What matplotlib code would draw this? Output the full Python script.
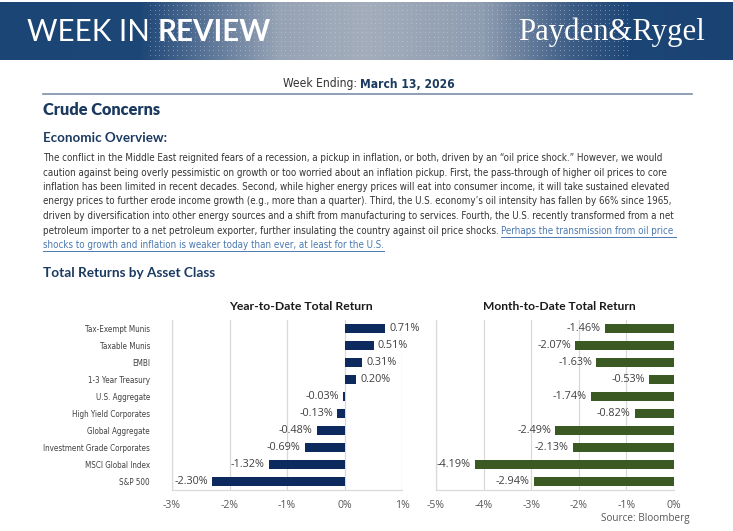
import matplotlib
matplotlib.use("Agg")
import matplotlib.pyplot as plt
from matplotlib import font_manager as fm
import numpy as np
from matplotlib.colors import LinearSegmentedColormap

# ---------------- data ----------------
categories = ["Tax-Exempt Munis", "Taxable Munis", "EMBI", "1-3 Year Treasury",
              "U.S. Aggregate", "High Yield Corporates", "Global Aggregate",
              "Investment Grade Corporates", "MSCI Global Index", "S&P 500"]
ytd_values = [0.71, 0.51, 0.31, 0.20, -0.03, -0.13, -0.48, -0.69, -1.32, -2.30]
mtd_values = [-1.46, -2.07, -1.63, -0.53, -1.74, -0.82, -2.49, -2.13, -4.19, -2.94]
ytd_ticks = [-3, -2, -1, 0, 1]
mtd_ticks = [-5, -4, -3, -2, -1, 0]

paragraph_lines = [
    "The conflict in the Middle East reignited fears of a recession, a pickup in inflation, or both, driven by an \u201coil price shock.\u201d However, we would",
    "caution against being overly pessimistic on growth or too worried about an inflation pickup. First, the pass-through of higher oil prices to core",
    "inflation has been limited in recent decades. Second, while higher energy prices will eat into consumer income, it will take sustained elevated",
    "energy prices to further erode income growth (e.g., more than a quarter). Third, the U.S. economy\u2019s oil intensity has fallen by 66% since 1965,",
    "driven by diversification into other energy sources and a shift from manufacturing to services. Fourth, the U.S. recently transformed from a net",
    "petroleum importer to a net petroleum exporter, further insulating the country against oil price shocks. ",
]
link_part1 = "Perhaps the transmission from oil price "
link_part2 = "shocks to growth and inflation is weaker today than ever, at least for the U.S."

NAVY_BAR = "#0c2a5e"
GREEN_BAR = "#3b5a23"
HEAD = "#1b3a60"
TXT = "#333333"
LABEL = "#404040"
GRID = "#d9d9d9"
LINK = "#4a78b0"

# ---- look for a condensed / narrow sans font, else fall back ----
def find_narrow(bold=False):
    best = None
    for f in fm.fontManager.ttflist:
        nm = f.name.lower()
        narrow = ("narrow" in nm or "condensed" in nm or
                  str(f.stretch) in ("condensed", "semi-condensed", "575", "625", "700", "750"))
        if not narrow or "serif" in nm and "sans" not in nm or "mono" in nm:
            continue
        w = f.weight if isinstance(f.weight, int) else (700 if "bold" in str(f.weight) else 400)
        if bold and w < 600:
            continue
        if not bold and w >= 600:
            continue
        if f.style != "normal":
            continue
        best = f.fname
        if "liberation" in nm or "dejavu" in nm:
            break
    return best

_nr = find_narrow(False)
_nb = find_narrow(True)
NARROW = fm.FontProperties(fname=_nr) if _nr else fm.FontProperties(family="DejaVu Sans")
NARROW_B = fm.FontProperties(fname=_nb) if _nb else fm.FontProperties(family="DejaVu Sans", weight="bold")
LATO_B = fm.FontProperties(family="Lato", weight="bold")

def fp(base, size):
    p = base.copy()
    p.set_size(size)
    return p

W, H = 733, 531
fig = plt.figure(figsize=(W / 100, H / 100), dpi=100)
r = fig.canvas.get_renderer()
bg = fig.add_axes([0, 0, 1, 1])
bg.set_xlim(0, W)
bg.set_ylim(H, 0)
bg.axis("off")
inv = bg.transData.inverted()

def width_px(t):
    return t.get_window_extent(r).width

def fit(t, target):
    w = width_px(t)
    if w > 0:
        t.set_fontsize(t.get_fontsize() * target / w)
    return t

# ---------------- header banner ----------------
cmap = LinearSegmentedColormap.from_list("hdr", [
    (0.0, "#1b4574"), (0.19, "#1d4777"), (0.28, "#5a7497"), (0.38, "#97a4b6"),
    (0.50, "#a3adbb"), (0.66, "#8f9db1"), (0.78, "#3e5d86"), (0.86, "#1c4676"), (1.0, "#1a4373")])
grad = np.linspace(0, 1, 400).reshape(1, -1)
bg.imshow(grad, cmap=cmap, extent=[0, W, 60, 2], aspect="auto", zorder=0)
xs, ys = np.meshgrid(np.arange(150, 630, 4.5), np.arange(5, 58, 4.5))
bg.scatter(xs.ravel(), ys.ravel(), s=0.5, c="#d0d7e0", alpha=0.35, linewidths=0, zorder=1)
bg.set_xlim(0, W)
bg.set_ylim(H, 0)

t1 = bg.text(27, 32, "WEEK IN ", color="white", fontsize=21, family="Lato",
             va="center", ha="left", zorder=3)
t1b = bg.text(0, 32, "REVIEW", color="white", fontsize=21, family="Lato",
              fontweight="bold", va="center", ha="left", zorder=3)
tot = width_px(t1) + width_px(t1b)
sc = 243 / tot
t1.set_fontsize(21 * sc)
t1b.set_fontsize(21 * sc)
t1b.set_x(27 + width_px(t1))
tp = bg.text(705, 32, "Payden&Rygel", color="white", fontsize=23, family="Liberation Serif",
             va="center", ha="right", zorder=3)
fit(tp, 187)

# ---------------- title block ----------------
t2 = bg.text(0, 84, "Week Ending: ", color=TXT, fontproperties=fp(NARROW, 9), va="center", ha="left")
t3 = bg.text(0, 84, "March 13, 2026", color=HEAD, fontproperties=fp(NARROW_B, 9), va="center", ha="left")
tw = width_px(t2) + width_px(t3)
s2 = 172 / tw
t2.set_fontsize(9 * s2)
t3.set_fontsize(9 * s2)
w2 = width_px(t2)
start = 369 - (w2 + width_px(t3)) / 2
t2.set_x(start)
t3.set_x(start + w2)
bg.plot([43, 692], [94, 94], color="#7d90a8", lw=1.2)

tc = bg.text(43, 110, "Crude Concerns", color=HEAD, fontsize=12, family="Lato",
             fontweight="heavy", va="center", ha="left")
fit(tc, 117)
te = bg.text(43, 138, "Economic Overview:", color=HEAD, fontproperties=fp(LATO_B, 10),
             va="center", ha="left")
fit(te, 124)

line_y = [158, 172.5, 187, 201.5, 216, 230.5, 245]
texts = []
for i, line in enumerate(paragraph_lines):
    t = bg.text(43, line_y[i], line, color=TXT, fontproperties=fp(NARROW, 8),
                va="center", ha="left")
    texts.append(t)
# fit paragraph font so the first five lines have the reference's total length
para_fs = 8 * 3135 / sum(width_px(t) for t in texts[:5])
for t in texts:
    t.set_fontsize(para_fs)
ext = texts[5].get_window_extent(r)
x_link = inv.transform((ext.x1, ext.y0))[0]
l1 = bg.text(x_link, line_y[5], link_part1, color=LINK, fontproperties=fp(NARROW, para_fs),
             va="center", ha="left")
l2 = bg.text(43, line_y[6], link_part2, color=LINK, fontproperties=fp(NARROW, para_fs),
             va="center", ha="left")
for tt, yy in ((l1, line_y[5]), (l2, line_y[6])):
    e = tt.get_window_extent(r)
    xa = inv.transform((e.x0, e.y0))[0]
    xb = inv.transform((e.x1, e.y0))[0]
    bg.plot([xa, xb], [yy + 6, yy + 6], color=LINK, lw=0.7)

tr = bg.text(43, 273, "Total Returns by Asset Class", color=HEAD, fontproperties=fp(LATO_B, 10),
             va="center", ha="left")
fit(tr, 173)

# ---------------- charts ----------------
cat_fs = 7.5
tmp = bg.text(0, 0, "Investment Grade Corporates", fontproperties=fp(NARROW, cat_fs))
cat_fs = cat_fs * 106 / width_px(tmp)
tmp.remove()

def make_chart(rect, values, ticks, color, show_cats):
    ax = fig.add_axes(rect)
    y = np.arange(len(values))
    bars = ax.barh(y, values, height=0.55, color=color, zorder=3)
    ax.set_ylim(len(values) - 0.5, -0.5)
    ax.set_xlim(ticks[0], ticks[-1])
    ax.set_xticks(ticks)
    ax.set_xticklabels([f"{t}%" for t in ticks], fontsize=7.6, color="#595959", family="Open Sans")
    ax.tick_params(axis="x", length=0, pad=7)
    ax.tick_params(axis="y", length=0, pad=15.8)
    if show_cats:
        ax.set_yticks(y)
        ax.set_yticklabels(categories, fontproperties=fp(NARROW, cat_fs), color=LABEL)
    else:
        ax.set_yticks([])
    ax.grid(axis="x", color=GRID, lw=0.9, zorder=0)
    for s in ("top", "right"):
        ax.spines[s].set_visible(False)
    for s in ("left", "bottom"):
        ax.spines[s].set_color(GRID)
        ax.spines[s].set_linewidth(0.9)
    ax.bar_label(bars, labels=[f"{v:.2f}%" for v in values], padding=3,
                 fontsize=7.8, color=LABEL, family="Open Sans")
    ax.patch.set_alpha(0)
    return ax

top_px, bot_px = 320, 490
make_chart([172 / W, (H - bot_px) / H, 230 / W, (bot_px - top_px) / H],
           ytd_values, ytd_ticks, NAVY_BAR, True)
make_chart([436 / W, (H - bot_px) / H, 238 / W, (bot_px - top_px) / H],
           mtd_values, mtd_ticks, GREEN_BAR, False)

ty = bg.text(301, 307, "Year-to-Date Total Return", color="#1a1a1a",
             fontproperties=fp(LATO_B, 10), va="center", ha="center")
fit(ty, 145)
tm = bg.text(559, 307, "Month-to-Date Total Return", color="#1a1a1a",
             fontproperties=fp(LATO_B, 10), va="center", ha="center")
fit(tm, 153)

bg.text(690, 519, "Source: Bloomberg", color="#595959", fontsize=7.2, family="Open Sans",
        va="center", ha="right")

fig.savefig("out.png", dpi=100)
